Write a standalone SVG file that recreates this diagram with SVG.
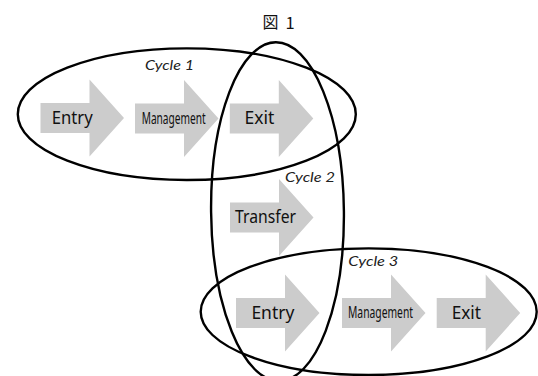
<svg xmlns="http://www.w3.org/2000/svg" width="538" height="376" viewBox="0 0 538 376">
<style>
.arrow{fill:#cccccc;stroke:none}
.cyc{fill:none;stroke:#000;stroke-width:2.4}
.lbl{font-family:"Noto Sans","Liberation Sans",sans-serif;font-size:17.5px;fill:#111}
.mgmt{font-family:"Noto Sans","Liberation Sans",sans-serif;font-size:15.5px;fill:#111}
.cl{font-family:"Lato","Noto Sans",sans-serif;font-style:italic;font-weight:400;font-size:13.5px;fill:#222}
.ttl{font-family:"Noto Sans CJK JP","Noto Sans",sans-serif;font-weight:400;fill:#111}
</style>
<defs>
<path id="blk" d="M0,-15 H49 V-38.5 L83.5,0 L49,38.5 V15 H0 Z"/>
</defs>
<rect width="538" height="376" fill="#fff"/>
<g id="title">
<text class="ttl" x="262.5" y="28" font-size="16">図</text>
<text class="ttl" x="285.5" y="28.5" font-size="16.5">1</text>
</g>
<g id="cycle1-entry"><use href="#blk" class="arrow" x="40.5" y="118"/><text class="lbl" x="51.7" y="124" textLength="41" lengthAdjust="spacingAndGlyphs">Entry</text></g>
<g id="cycle1-management"><use href="#blk" class="arrow" x="135" y="118.5"/><text class="mgmt" x="141.7" y="123.5" textLength="64" lengthAdjust="spacingAndGlyphs">Management</text></g>
<g id="cycle1-exit"><use href="#blk" class="arrow" x="229.8" y="118.5"/><text class="lbl" x="244.6" y="124" textLength="29.8" lengthAdjust="spacingAndGlyphs">Exit</text></g>
<g id="cycle2-transfer"><use href="#blk" class="arrow" x="230" y="217.5"/><text class="lbl" x="235" y="223" textLength="61" lengthAdjust="spacingAndGlyphs">Transfer</text></g>
<g id="cycle3-entry"><use href="#blk" class="arrow" x="236" y="313"/><text class="lbl" x="251.4" y="318.5" textLength="42.9" lengthAdjust="spacingAndGlyphs">Entry</text></g>
<g id="cycle3-management"><use href="#blk" class="arrow" x="342" y="313"/><text class="mgmt" x="348" y="318" textLength="65" lengthAdjust="spacingAndGlyphs">Management</text></g>
<g id="cycle3-exit"><use href="#blk" class="arrow" x="436.7" y="313"/><text class="lbl" x="451.7" y="318.5" textLength="29.3" lengthAdjust="spacingAndGlyphs">Exit</text></g>
<g id="cycles">
<ellipse id="cycle1" class="cyc" cx="186.8" cy="114.2" rx="169" ry="65.8"/>
<ellipse id="cycle2" class="cyc" cx="277.5" cy="211.6" rx="66.4" ry="169.3" transform="rotate(-0.6 277.5 211.6)"/>
<ellipse id="cycle3" class="cyc" cx="368.7" cy="311.7" rx="168" ry="63.3"/>
<text class="cl" x="145" y="70" textLength="49" lengthAdjust="spacingAndGlyphs">Cycle 1</text>
<text class="cl" x="285" y="182" textLength="50" lengthAdjust="spacingAndGlyphs">Cycle 2</text>
<text class="cl" x="348.3" y="266" textLength="50" lengthAdjust="spacingAndGlyphs">Cycle 3</text>
</g>
</svg>
